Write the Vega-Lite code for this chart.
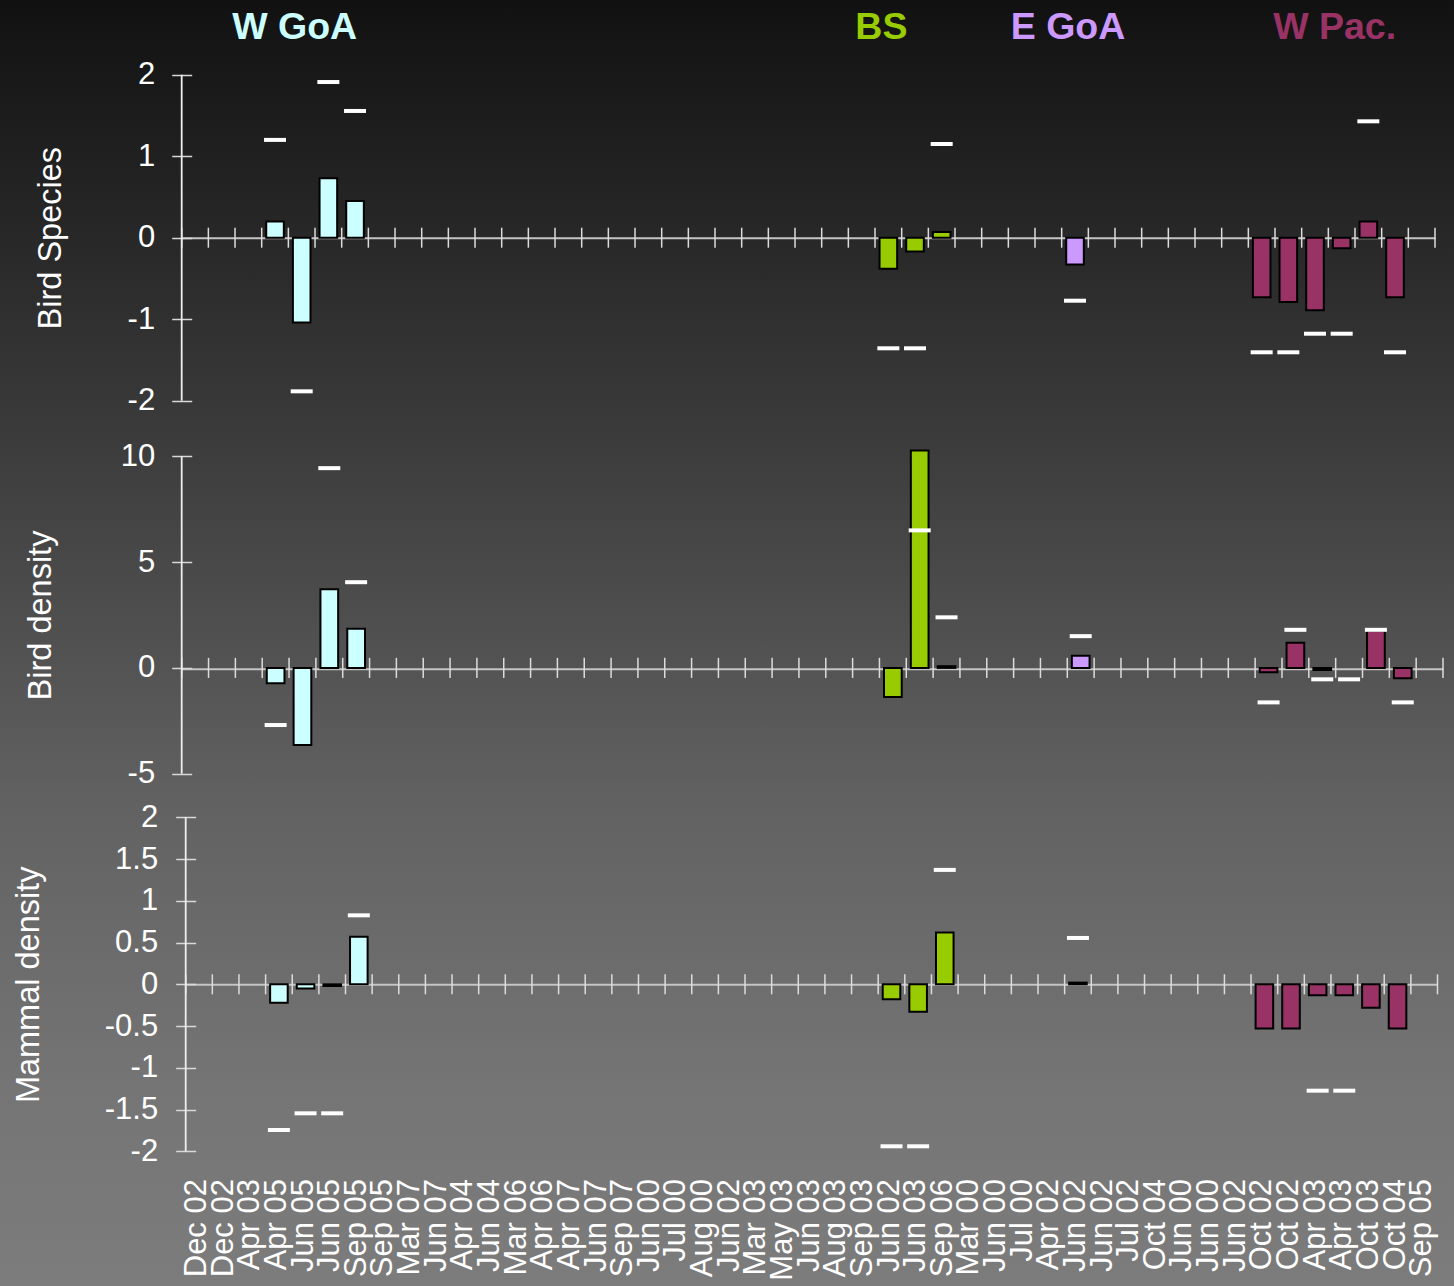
{
  "$schema": "https://vega.github.io/schema/vega-lite/v6.json",
  "width": 1454,
  "height": 1286,
  "autosize": {"type": "none"},
  "padding": 0,
  "background": "#444444",
  "config": {
    "font": "Liberation Sans",
    "view": {
      "stroke": null,
      "fill": {"gradient": "linear", "x1": 0, "y1": 0, "x2": 0, "y2": 1,
        "stops": [
          {"offset": 0, "color": "#111111"},
          {"offset": 0.33, "color": "#3a3a3a"},
          {"offset": 0.62, "color": "#616161"},
          {"offset": 0.85, "color": "#757575"},
          {"offset": 1, "color": "#7c7c7c"}
        ]}
    },
    "locale": {"number": {"decimal": ".", "thousands": ",", "grouping": [3], "currency": ["$", ""], "minus": "-"}}
  },
  "datasets": {
    "one": [{"item": "axis"}],
    "slots": [
      {"slot": 1, "label": "Dec 02"}, {"slot": 2, "label": "Dec 02"}, {"slot": 3, "label": "Apr 03"},
      {"slot": 4, "label": "Apr 05"}, {"slot": 5, "label": "Jun 05"}, {"slot": 6, "label": "Jun 05"},
      {"slot": 7, "label": "Sep 05"}, {"slot": 8, "label": "Sep 05"}, {"slot": 9, "label": "Mar 07"},
      {"slot": 10, "label": "Jun 07"}, {"slot": 11, "label": "Apr 04"}, {"slot": 12, "label": "Jun 04"},
      {"slot": 13, "label": "Mar 06"}, {"slot": 14, "label": "Apr 06"}, {"slot": 15, "label": "Apr 07"},
      {"slot": 16, "label": "Jun 07"}, {"slot": 17, "label": "Sep 07"}, {"slot": 18, "label": "Jun 00"},
      {"slot": 19, "label": "Jul 00"}, {"slot": 20, "label": "Aug 00"}, {"slot": 21, "label": "Jun 02"},
      {"slot": 22, "label": "Mar 03"}, {"slot": 23, "label": "May 03"}, {"slot": 24, "label": "Jun 03"},
      {"slot": 25, "label": "Aug 03"}, {"slot": 26, "label": "Sep 03"}, {"slot": 27, "label": "Jun 02"},
      {"slot": 28, "label": "Jun 03"}, {"slot": 29, "label": "Sep 06"}, {"slot": 30, "label": "Mar 00"},
      {"slot": 31, "label": "Jun 00"}, {"slot": 32, "label": "Jul 00"}, {"slot": 33, "label": "Apr 02"},
      {"slot": 34, "label": "Jun 02"}, {"slot": 35, "label": "Jun 02"}, {"slot": 36, "label": "Jul 02"},
      {"slot": 37, "label": "Oct 04"}, {"slot": 38, "label": "Jun 00"}, {"slot": 39, "label": "Jun 00"},
      {"slot": 40, "label": "Jun 02"}, {"slot": 41, "label": "Oct 02"}, {"slot": 42, "label": "Oct 02"},
      {"slot": 43, "label": "Apr 03"}, {"slot": 44, "label": "Apr 03"}, {"slot": 45, "label": "Oct 03"},
      {"slot": 46, "label": "Oct 04"}, {"slot": 47, "label": "Sep 05"}
    ],
    "regions": [
      {"region": "W GoA", "slot": 5},
      {"region": "BS", "slot": 27},
      {"region": "E GoA", "slot": 34},
      {"region": "W Pac.", "slot": 44}
    ],
    "bars": [
      {"panel": "Bird Species", "region": "W GoA", "slot": 4, "value": 0.2},
      {"panel": "Bird Species", "region": "W GoA", "slot": 5, "value": -1.04},
      {"panel": "Bird Species", "region": "W GoA", "slot": 6, "value": 0.73},
      {"panel": "Bird Species", "region": "W GoA", "slot": 7, "value": 0.45},
      {"panel": "Bird Species", "region": "BS", "slot": 27, "value": -0.38},
      {"panel": "Bird Species", "region": "BS", "slot": 28, "value": -0.17},
      {"panel": "Bird Species", "region": "BS", "slot": 29, "value": 0.07},
      {"panel": "Bird Species", "region": "E GoA", "slot": 34, "value": -0.33},
      {"panel": "Bird Species", "region": "W Pac.", "slot": 41, "value": -0.73},
      {"panel": "Bird Species", "region": "W Pac.", "slot": 42, "value": -0.79},
      {"panel": "Bird Species", "region": "W Pac.", "slot": 43, "value": -0.89},
      {"panel": "Bird Species", "region": "W Pac.", "slot": 44, "value": -0.13},
      {"panel": "Bird Species", "region": "W Pac.", "slot": 45, "value": 0.2},
      {"panel": "Bird Species", "region": "W Pac.", "slot": 46, "value": -0.73},
      {"panel": "Bird density", "region": "W GoA", "slot": 4, "value": -0.73},
      {"panel": "Bird density", "region": "W GoA", "slot": 5, "value": -3.64},
      {"panel": "Bird density", "region": "W GoA", "slot": 6, "value": 3.72},
      {"panel": "Bird density", "region": "W GoA", "slot": 7, "value": 1.85},
      {"panel": "Bird density", "region": "BS", "slot": 27, "value": -1.38},
      {"panel": "Bird density", "region": "BS", "slot": 28, "value": 10.28},
      {"panel": "Bird density", "region": "BS", "slot": 29, "value": 0.08},
      {"panel": "Bird density", "region": "E GoA", "slot": 34, "value": 0.57},
      {"panel": "Bird density", "region": "W Pac.", "slot": 41, "value": -0.2},
      {"panel": "Bird density", "region": "W Pac.", "slot": 42, "value": 1.19},
      {"panel": "Bird density", "region": "W Pac.", "slot": 43, "value": -0.1},
      {"panel": "Bird density", "region": "W Pac.", "slot": 45, "value": 1.76},
      {"panel": "Bird density", "region": "W Pac.", "slot": 46, "value": -0.49},
      {"panel": "Mammal density", "region": "W GoA", "slot": 4, "value": -0.22},
      {"panel": "Mammal density", "region": "W GoA", "slot": 5, "value": -0.05},
      {"panel": "Mammal density", "region": "W GoA", "slot": 6, "value": -0.02},
      {"panel": "Mammal density", "region": "W GoA", "slot": 7, "value": 0.57},
      {"panel": "Mammal density", "region": "BS", "slot": 27, "value": -0.18},
      {"panel": "Mammal density", "region": "BS", "slot": 28, "value": -0.33},
      {"panel": "Mammal density", "region": "BS", "slot": 29, "value": 0.62},
      {"panel": "Mammal density", "region": "E GoA", "slot": 34, "value": 0.02},
      {"panel": "Mammal density", "region": "W Pac.", "slot": 41, "value": -0.53},
      {"panel": "Mammal density", "region": "W Pac.", "slot": 42, "value": -0.53},
      {"panel": "Mammal density", "region": "W Pac.", "slot": 43, "value": -0.13},
      {"panel": "Mammal density", "region": "W Pac.", "slot": 44, "value": -0.13},
      {"panel": "Mammal density", "region": "W Pac.", "slot": 45, "value": -0.28},
      {"panel": "Mammal density", "region": "W Pac.", "slot": 46, "value": -0.53}
    ],
    "dashes": [
      {"panel": "Bird Species", "slot": 4, "limit": 1.2},
      {"panel": "Bird Species", "slot": 5, "limit": -1.885},
      {"panel": "Bird Species", "slot": 6, "limit": 1.91},
      {"panel": "Bird Species", "slot": 7, "limit": 1.555},
      {"panel": "Bird Species", "slot": 27, "limit": -1.357},
      {"panel": "Bird Species", "slot": 28, "limit": -1.357},
      {"panel": "Bird Species", "slot": 29, "limit": 1.15},
      {"panel": "Bird Species", "slot": 34, "limit": -0.773},
      {"panel": "Bird Species", "slot": 41, "limit": -1.406},
      {"panel": "Bird Species", "slot": 42, "limit": -1.406},
      {"panel": "Bird Species", "slot": 43, "limit": -1.178},
      {"panel": "Bird Species", "slot": 44, "limit": -1.178},
      {"panel": "Bird Species", "slot": 45, "limit": 1.428},
      {"panel": "Bird Species", "slot": 46, "limit": -1.406},
      {"panel": "Bird density", "slot": 4, "limit": -2.7},
      {"panel": "Bird density", "slot": 6, "limit": 9.44},
      {"panel": "Bird density", "slot": 7, "limit": 4.05},
      {"panel": "Bird density", "slot": 28, "limit": 6.5},
      {"panel": "Bird density", "slot": 29, "limit": 2.39},
      {"panel": "Bird density", "slot": 34, "limit": 1.5},
      {"panel": "Bird density", "slot": 41, "limit": -1.63},
      {"panel": "Bird density", "slot": 42, "limit": 1.8},
      {"panel": "Bird density", "slot": 43, "limit": -0.54},
      {"panel": "Bird density", "slot": 44, "limit": -0.54},
      {"panel": "Bird density", "slot": 45, "limit": 1.8},
      {"panel": "Bird density", "slot": 46, "limit": -1.63},
      {"panel": "Mammal density", "slot": 4, "limit": -1.745},
      {"panel": "Mammal density", "slot": 5, "limit": -1.545},
      {"panel": "Mammal density", "slot": 6, "limit": -1.545},
      {"panel": "Mammal density", "slot": 7, "limit": 0.826},
      {"panel": "Mammal density", "slot": 27, "limit": -1.94},
      {"panel": "Mammal density", "slot": 28, "limit": -1.94},
      {"panel": "Mammal density", "slot": 29, "limit": 1.37},
      {"panel": "Mammal density", "slot": 34, "limit": 0.555},
      {"panel": "Mammal density", "slot": 43, "limit": -1.274},
      {"panel": "Mammal density", "slot": 44, "limit": -1.274}
    ]
  },
  "layer": [
    {
      "layer": [
        {
          "data": {"name": "slots"},
          "mark": {"type": "rule", "color": "#dcdcdc", "strokeWidth": 1.5},
          "encoding": {
            "x": {"field": "slot", "type": "ordinal", "bandPosition": 0,
              "scale": {"type": "band", "domain": [1,2,3,4,5,6,7,8,9,10,11,12,13,14,15,16,17,18,19,20,21,22,23,24,25,26,27,28,29,30,31,32,33,34,35,36,37,38,39,40,41,42,43,44,45,46,47], "range": [181.7, 1435], "paddingInner": 0, "paddingOuter": 0},
              "axis": {"orient": "top", "offset": -237.7, "domain": true, "domainColor": "#c4c4c4", "domainWidth": 2, "ticks": false, "labels": false, "title": null, "grid": false}},
            "y": {"datum": -0.1227, "type": "quantitative",
              "scale": {"domain": [-2, 2], "range": [400.7, 74.7], "nice": false, "zero": false},
              "axis": {"orient": "left", "values": [-2, -1, 0, 1, 2], "format": "~g", "offset": -191.7, "domain": false, "grid": false,
                "tickSize": 20, "tickColor": "#d8d8d8", "tickWidth": 1.5,
                "labelPadding": 17, "labelFontSize": 31, "labelColor": "#ffffff",
                "title": "Bird Species", "titleFontSize": 32.5, "titleFontWeight": "normal", "titleColor": "#ffffff",
                "titleX": -141.7, "titleBaseline": "middle"}},
            "y2": {"datum": 0.1227}
          }
        },
        {
          "data": {"name": "one"},
          "mark": {"type": "rule", "color": "#dcdcdc", "strokeWidth": 1.5},
          "encoding": {
            "x": {"datum": 47, "type": "ordinal", "bandPosition": 1},
            "y": {"datum": -0.1227},
            "y2": {"datum": 0.1227}
          }
        },
        {
          "data": {"name": "one"},
          "mark": {"type": "rule", "color": "#eeeeee", "strokeWidth": 1.8},
          "encoding": {
            "x": {"datum": 1, "type": "ordinal", "bandPosition": 0},
            "y": {"datum": -2},
            "y2": {"datum": 2}
          }
        },
        {
          "data": {"name": "bars"},
          "transform": [{"filter": "datum.panel === 'Bird Species'"}],
          "mark": {"type": "bar", "width": {"band": 0.66}, "stroke": "#000000", "strokeWidth": 2},
          "encoding": {
            "x": {"field": "slot", "type": "ordinal"},
            "y": {"field": "value", "type": "quantitative"},
            "color": {"field": "region", "type": "nominal", "legend": null,
              "scale": {"domain": ["W GoA", "BS", "E GoA", "W Pac."], "range": ["#ccffff", "#99cc00", "#cc99ff", "#993366"]}}
          }
        },
        {
          "data": {"name": "dashes"},
          "transform": [{"filter": "datum.panel === 'Bird Species'"}],
          "mark": {"type": "tick", "color": "#ffffff", "size": 22, "thickness": 4, "opacity": 1},
          "encoding": {
            "x": {"field": "slot", "type": "ordinal"},
            "y": {"field": "limit", "type": "quantitative"}
          }
        },
        {
          "data": {"name": "regions"},
          "mark": {"type": "text", "fontSize": 37.5, "fontWeight": "bold", "baseline": "alphabetic", "align": "center", "dx": -7},
          "encoding": {
            "x": {"field": "slot", "type": "ordinal"},
            "y": {"datum": 2.434},
            "text": {"field": "region"},
            "color": {"field": "region", "type": "nominal", "legend": null,
              "scale": {"domain": ["W GoA", "BS", "E GoA", "W Pac."], "range": ["#ccffff", "#99cc00", "#cc99ff", "#993366"]}}
          }
        }
      ]
    },
    {
      "layer": [
        {
          "data": {"name": "slots"},
          "mark": {"type": "rule", "color": "#dcdcdc", "strokeWidth": 1.5},
          "encoding": {
            "x": {"field": "slot", "type": "ordinal", "bandPosition": 0,
              "scale": {"type": "band", "domain": [1,2,3,4,5,6,7,8,9,10,11,12,13,14,15,16,17,18,19,20,21,22,23,24,25,26,27,28,29,30,31,32,33,34,35,36,37,38,39,40,41,42,43,44,45,46,47], "range": [181.7, 1443], "paddingInner": 0, "paddingOuter": 0},
              "axis": {"orient": "top", "offset": -668.7, "domain": true, "domainColor": "#c4c4c4", "domainWidth": 2, "ticks": false, "labels": false, "title": null, "grid": false}},
            "y": {"datum": -0.475, "type": "quantitative",
              "scale": {"domain": [-5, 10], "range": [773.7, 456.3], "nice": false, "zero": false},
              "axis": {"orient": "left", "values": [-5, 0, 5, 10], "format": "~g", "offset": -191.7, "domain": false, "grid": false,
                "tickSize": 20, "tickColor": "#d8d8d8", "tickWidth": 1.5,
                "labelPadding": 17, "labelFontSize": 31, "labelColor": "#ffffff",
                "title": "Bird density", "titleFontSize": 32.5, "titleFontWeight": "normal", "titleColor": "#ffffff",
                "titleX": -151.7, "titleBaseline": "middle"}},
            "y2": {"datum": 0.475}
          }
        },
        {
          "data": {"name": "one"},
          "mark": {"type": "rule", "color": "#dcdcdc", "strokeWidth": 1.5},
          "encoding": {
            "x": {"datum": 47, "type": "ordinal", "bandPosition": 1},
            "y": {"datum": -0.475},
            "y2": {"datum": 0.475}
          }
        },
        {
          "data": {"name": "one"},
          "mark": {"type": "rule", "color": "#eeeeee", "strokeWidth": 1.8},
          "encoding": {
            "x": {"datum": 1, "type": "ordinal", "bandPosition": 0},
            "y": {"datum": -5},
            "y2": {"datum": 10}
          }
        },
        {
          "data": {"name": "bars"},
          "transform": [{"filter": "datum.panel === 'Bird density'"}],
          "mark": {"type": "bar", "width": {"band": 0.66}, "stroke": "#000000", "strokeWidth": 2},
          "encoding": {
            "x": {"field": "slot", "type": "ordinal"},
            "y": {"field": "value", "type": "quantitative"},
            "color": {"field": "region", "type": "nominal", "legend": null,
              "scale": {"domain": ["W GoA", "BS", "E GoA", "W Pac."], "range": ["#ccffff", "#99cc00", "#cc99ff", "#993366"]}}
          }
        },
        {
          "data": {"name": "dashes"},
          "transform": [{"filter": "datum.panel === 'Bird density'"}],
          "mark": {"type": "tick", "color": "#ffffff", "size": 22, "thickness": 4, "opacity": 1},
          "encoding": {
            "x": {"field": "slot", "type": "ordinal"},
            "y": {"field": "limit", "type": "quantitative"}
          }
        }
      ]
    },
    {
      "layer": [
        {
          "data": {"name": "slots"},
          "mark": {"type": "rule", "color": "#dcdcdc", "strokeWidth": 1.5},
          "encoding": {
            "x": {"field": "slot", "type": "ordinal", "bandPosition": 0,
              "scale": {"type": "band", "domain": [1,2,3,4,5,6,7,8,9,10,11,12,13,14,15,16,17,18,19,20,21,22,23,24,25,26,27,28,29,30,31,32,33,34,35,36,37,38,39,40,41,42,43,44,45,46,47], "range": [185.7, 1437.5], "paddingInner": 0, "paddingOuter": 0},
              "axis": {"orient": "top", "offset": -984.3, "domain": true, "domainColor": "#c4c4c4", "domainWidth": 2, "ticks": false, "labels": false, "title": null, "grid": false}},
            "y": {"datum": -0.12, "type": "quantitative",
              "scale": {"domain": [-2, 2], "range": [1151.3, 817.3], "nice": false, "zero": false},
              "axis": {"orient": "left", "values": [-2, -1.5, -1, -0.5, 0, 0.5, 1, 1.5, 2], "format": "~g", "offset": -195.7, "domain": false, "grid": false,
                "tickSize": 20, "tickColor": "#d8d8d8", "tickWidth": 1.5,
                "labelPadding": 18, "labelFontSize": 31, "labelColor": "#ffffff",
                "title": "Mammal density", "titleFontSize": 32.5, "titleFontWeight": "normal", "titleColor": "#ffffff",
                "titleX": -167.7, "titleBaseline": "middle"}},
            "y2": {"datum": 0.12}
          }
        },
        {
          "data": {"name": "one"},
          "mark": {"type": "rule", "color": "#dcdcdc", "strokeWidth": 1.5},
          "encoding": {
            "x": {"datum": 47, "type": "ordinal", "bandPosition": 1},
            "y": {"datum": -0.12},
            "y2": {"datum": 0.12}
          }
        },
        {
          "data": {"name": "one"},
          "mark": {"type": "rule", "color": "#eeeeee", "strokeWidth": 1.8},
          "encoding": {
            "x": {"datum": 1, "type": "ordinal", "bandPosition": 0},
            "y": {"datum": -2},
            "y2": {"datum": 2}
          }
        },
        {
          "data": {"name": "bars"},
          "transform": [{"filter": "datum.panel === 'Mammal density'"}],
          "mark": {"type": "bar", "width": {"band": 0.66}, "stroke": "#000000", "strokeWidth": 2},
          "encoding": {
            "x": {"field": "slot", "type": "ordinal"},
            "y": {"field": "value", "type": "quantitative"},
            "color": {"field": "region", "type": "nominal", "legend": null,
              "scale": {"domain": ["W GoA", "BS", "E GoA", "W Pac."], "range": ["#ccffff", "#99cc00", "#cc99ff", "#993366"]}}
          }
        },
        {
          "data": {"name": "dashes"},
          "transform": [{"filter": "datum.panel === 'Mammal density'"}],
          "mark": {"type": "tick", "color": "#ffffff", "size": 22, "thickness": 4, "opacity": 1},
          "encoding": {
            "x": {"field": "slot", "type": "ordinal"},
            "y": {"field": "limit", "type": "quantitative"}
          }
        },
        {
          "data": {"name": "slots"},
          "mark": {"type": "text", "angle": -90, "align": "right", "baseline": "middle", "fontSize": 31, "color": "#ffffff", "dy": -2},
          "encoding": {
            "x": {"field": "slot", "type": "ordinal"},
            "y": {"datum": -2.332},
            "text": {"field": "label"}
          }
        }
      ]
    }
  ],
  "resolve": {
    "scale": {"x": "independent", "y": "independent"},
    "axis": {"x": "independent", "y": "independent"}
  }
}
